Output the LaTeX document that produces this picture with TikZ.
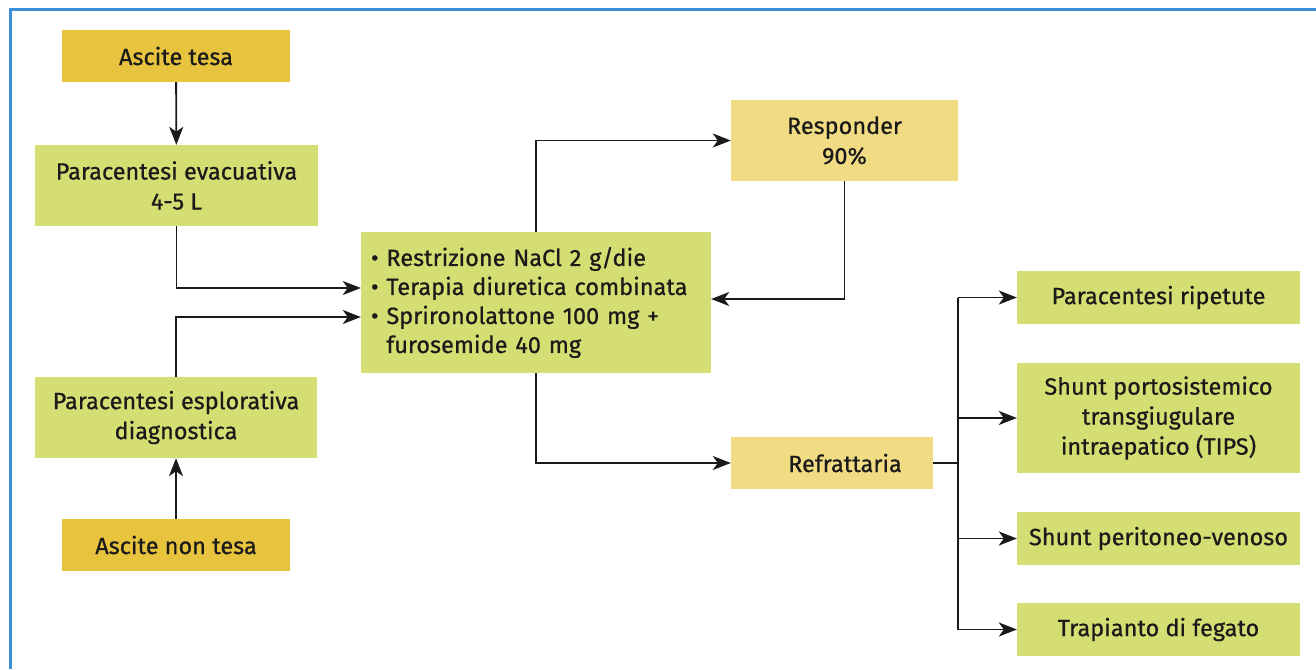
\documentclass[tikz,border=0pt]{standalone}
\usepackage{fontspec}
\setmainfont{Fira Sans}[FakeBold=0.6]
\usetikzlibrary{arrows.meta}
\definecolor{frameblue}{HTML}{3A8FD6}
\definecolor{gold}{HTML}{E8C43E}
\definecolor{leaf}{HTML}{D5DE72}
\definecolor{straw}{HTML}{F1DC84}
\definecolor{ink}{HTML}{1A1A1A}
\tikzset{
  box/.style={draw=none, inner sep=6pt, align=center, text=ink,
    font=\fontsize{23.5}{30}\selectfont},
  goldbox/.style={box, fill=gold},
  leafbox/.style={box, fill=leaf},
  strawbox/.style={box, fill=straw},
  link/.style={draw=ink, line width=1.8pt},
  arr/.style={link, -{Stealth[length=18pt, width=14pt, inset=5pt]}},
}
\begin{document}
\begin{tikzpicture}[x=1pt, y=-1pt]
\useasboundingbox (0,0) rectangle (1316,669);
\fill[white] (0,0) rectangle (1316,669);
% frame
\draw[frameblue, line width=3pt] (10,669) -- (10,10) -- (1316,10);

% left column
\node[goldbox, minimum width=228pt, minimum height=52pt] (tesa) at (176,56) {Ascite tesa};
\node[leafbox, minimum width=283pt, minimum height=81pt] (evac) at (176.5,185.5) {Paracentesi evacuativa\\4-5 L};
\node[leafbox, minimum width=282pt, minimum height=81pt] (espl) at (176,417.5) {Paracentesi esplorativa\\diagnostica};
\node[goldbox, minimum width=228pt, minimum height=52pt] (nontesa) at (176,545) {Ascite non tesa};

% therapy
\node[leafbox, minimum width=350pt, minimum height=141pt, text width=330pt, align=left,
      font=\fontsize{23.5}{29}\selectfont] (cen) at (536,302.5)
  {\textbullet\ Restrizione NaCl 2 g/die\\
   \textbullet\ Terapia diuretica combinata\\
   \textbullet\ Sprironolattone 100 mg +\\
   \hphantom{\textbullet\ }furosemide 40 mg};

% outcomes
\node[strawbox, minimum width=227pt, minimum height=81pt] (resp) at (844.5,140.5) {Responder\\90\%};
\node[strawbox, minimum width=202pt, minimum height=52pt] (refr) at (832,463) {\hspace*{26pt}Refrattaria};

% options for refractory ascites
\node[leafbox, minimum width=283pt, minimum height=53pt] (rip) at (1158.5,297.5) {Paracentesi ripetute};
\node[leafbox, minimum width=283pt, minimum height=110pt] (tips) at (1158.5,418) {Shunt portosistemico\\transgiugulare\\intraepatico (TIPS)};
\node[leafbox, minimum width=283pt, minimum height=53pt] (peri) at (1158.5,538.5) {Shunt peritoneo-venoso};
\node[leafbox, minimum width=283pt, minimum height=53pt] (trap) at (1158.5,629.5) {Trapianto di fegato};

% connectors
\draw[arr] (tesa) -- (evac);
\draw[arr] (evac.south) |- ([yshift=14.5pt]cen.west);
\draw[arr] (nontesa) -- (espl);
\draw[arr] (espl.north) |- ([yshift=-14.5pt]cen.west);
\draw[arr] (cen.north) |- (resp.west);
\draw[arr] (resp.south) |- ([yshift=3.5pt]cen.east);
\draw[arr] (cen.south) |- (refr.west);

\coordinate (jn) at (958,463);
\draw[link] (refr.east) -- (jn);
\draw[link] (jn |- rip.west) -- (jn |- trap.west);
\draw[arr] (jn |- rip.west) -- (rip.west);
\draw[arr] (jn |- tips.west) -- (tips.west);
\draw[arr] (jn |- peri.west) -- (peri.west);
\draw[arr] (jn |- trap.west) -- (trap.west);
\end{tikzpicture}
\end{document}
